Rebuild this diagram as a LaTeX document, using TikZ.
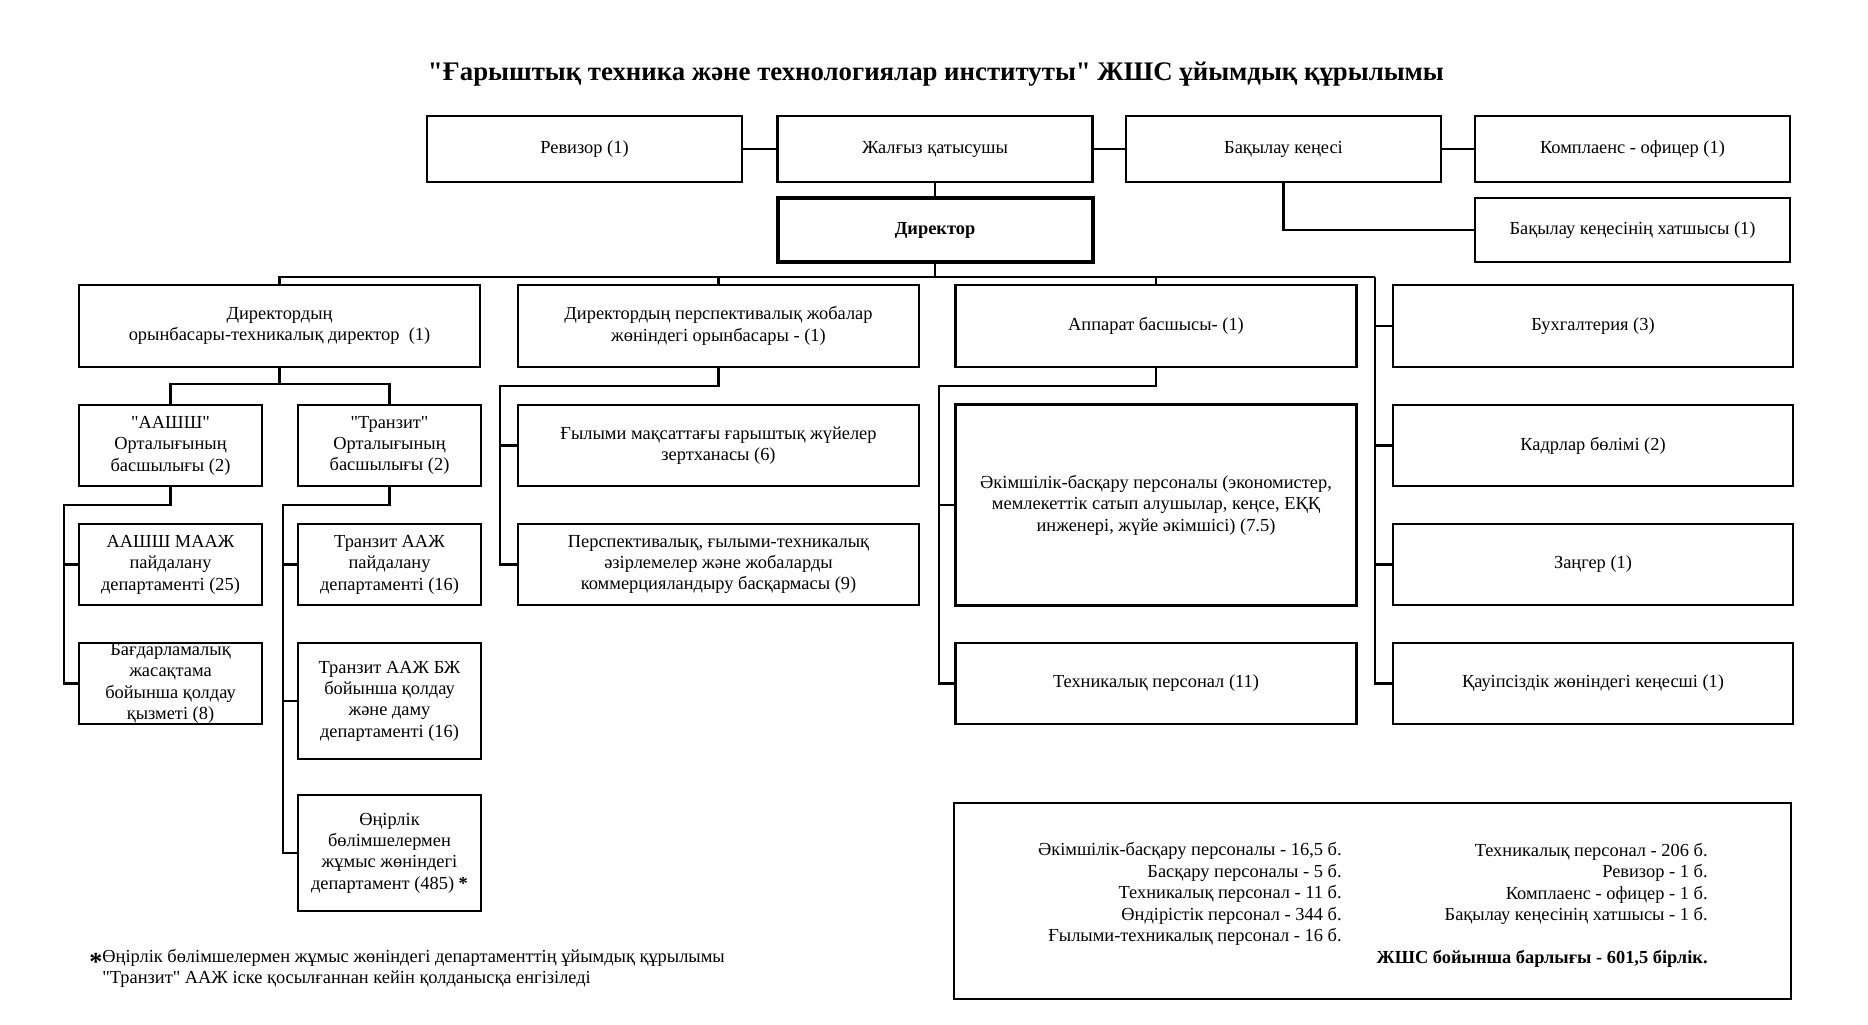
\documentclass[tikz,border=0pt]{standalone}
\usepackage{fontspec}
\setmainfont{Liberation Serif}[Ligatures=TeXOff]
\newcommand{\fsbody}{\fontsize{9.2}{10.7}\selectfont}
\begin{document}
\begin{tikzpicture}[x=0.5pt,y=-0.5pt,
  box/.style={draw, line width=1.2pt, inner sep=0pt, align=center, font=\fsbody},
  topbox/.style={box, minimum width=157.5pt, minimum height=33pt},
  bigbox/.style={box, minimum width=200.5pt, minimum height=41pt},
  smallbox/.style={box, minimum width=91.5pt, minimum height=40.5pt},
  tallbox/.style={box, minimum width=91.5pt, minimum height=58pt},
  conn/.style={line width=1.2pt},
  txt/.style={inner sep=0pt, font=\fsbody}]
\fill[white] (0,0) rectangle (1868,1024);
\useasboundingbox (0,0) rectangle (1868,1024);

\node[inner sep=0pt, font=\fontsize{13.4}{16}\selectfont\bfseries] (title) at (936,74)
  {"Ғарыштық техника және технологиялар институты" ЖШС ұйымдық құрылымы};

% top row
\node[topbox] (rev) at (584.5,149) {Ревизор (1)};
\node[topbox] (zq) at (935,149) {Жалғыз қатысушы};
\node[topbox] (bk) at (1283.5,149) {Бақылау кеңесі};
\node[topbox] (komp) at (1632.5,149) {Комплаенс - офицер (1)};
\node[topbox, line width=2pt, minimum height=32pt, font=\fsbody\bfseries] (dir) at (935,230) {Директор};
\node[topbox, minimum height=32pt] (hat) at (1632.5,230) {Бақылау кеңесінің хатшысы (1)};

% row 2
\node[bigbox] (b1) at (279.5,326) {Директордың\\орынбасары-техникалық директор\ \ (1)};
\node[bigbox] (b2) at (718.5,326) {Директордың перспективалық жобалар\\жөніндегі орынбасары - (1)};
\node[bigbox] (b3) at (1156,326) {Аппарат басшысы- (1)};
\node[bigbox, minimum width=200pt] (r1) at (1593,326) {Бухгалтерия (3)};

% row 3
\node[smallbox] (a1) at (170.5,445.5) {"ААШШ"\\Орталығының\\басшылығы (2)};
\node[smallbox] (t1) at (389.5,445.5) {"Транзит"\\Орталығының\\басшылығы (2)};
\node[bigbox, minimum height=40.5pt] (g1) at (718.5,445.5) {Ғылыми мақсаттағы ғарыштық жүйелер\\зертханасы (6)};
\node[bigbox, minimum height=100.5pt] (ak) at (1156,505) {Әкімшілік-басқару персоналы (экономистер,\\мемлекеттік сатып алушылар, кеңсе, ЕҚҚ\\инженері, жүйе әкімшісі) (7.5)};
\node[bigbox, minimum width=200pt, minimum height=40.5pt] (r2) at (1593,445.5) {Кадрлар бөлімі (2)};

% row 4
\node[smallbox] (a2) at (170.5,564.5) {ААШШ МААЖ\\пайдалану\\департаменті (25)};
\node[smallbox] (t2) at (389.5,564.5) {Транзит ААЖ\\пайдалану\\департаменті (16)};
\node[bigbox, minimum height=40.5pt] (g2) at (718.5,564.5) {Перспективалық, ғылыми-техникалық\\әзірлемелер және жобаларды\\коммерцияландыру басқармасы (9)};
\node[bigbox, minimum width=200pt, minimum height=40.5pt] (r3) at (1593,564.5) {Заңгер (1)};

% row 5
\node[smallbox] (a3) at (170.5,683.5) {Бағдарламалық\\жасақтама\\бойынша қолдау\\қызметі (8)};
\node[tallbox] (t3) at (389.5,701) {Транзит ААЖ БЖ\\бойынша қолдау\\және даму\\департаменті (16)};
\node[bigbox, minimum height=40.5pt] (tx) at (1156,683.5) {Техникалық персонал (11)};
\node[bigbox, minimum width=200pt, minimum height=40.5pt] (r4) at (1593,683.5) {Қауіпсіздік жөніндегі кеңесші (1)};

\node[tallbox] (t4) at (389.5,853) {Өңірлік\\бөлімшелермен\\жұмыс жөніндегі\\департамент (485) \textbf{*}};

% summary
\node[draw, line width=1.4pt, minimum width=418.5pt, minimum height=98pt, inner sep=0pt] (sum) at (1372.5,901) {};
\node[txt, align=right, anchor=east] (sl) at (1342,894) {Әкімшілік-басқару персоналы - 16,5 б.\\Басқару персоналы - 5 б.\\Техникалық персонал - 11 б.\\Өндірістік персонал - 344 б.\\Ғылыми-техникалық персонал - 16 б.};
\node[txt, align=right, anchor=east] (sr) at (1708,884) {Техникалық персонал - 206 б.\\Ревизор - 1 б.\\Комплаенс - офицер - 1 б.\\Бақылау кеңесінің хатшысы - 1 б.};
\node[txt, anchor=east, font=\fsbody\bfseries] (tot) at (1708,959) {ЖШС бойынша барлығы - 601,5 бірлік.};

% footnote
\node[inner sep=0pt, anchor=west, font=\fontsize{13}{13}\selectfont\bfseries] (ast) at (89,962) {*};
\node[txt, align=left, anchor=north west] (fn) at (102,949) {Өңірлік бөлімшелермен жұмыс жөніндегі департаменттің ұйымдық құрылымы\\"Транзит" ААЖ іске қосылғаннан кейін қолданысқа енгізіледі};

% connectors
\coordinate (busR) at (1375,277);
\coordinate (h1) at (279.5,384);
\coordinate (va) at (64,505);
\coordinate (vt) at (283,505);
\coordinate (vg) at (500,386);
\coordinate (vk) at (939,386);

\draw[conn] (rev.east) -- (zq.west);
\draw[conn] (zq.east) -- (bk.west);
\draw[conn] (bk.east) -- (komp.west);
\draw[conn] (zq.south) -- (dir.north);
\draw[conn] (bk.south) |- (hat.west);

\draw[conn] (dir.south) -- (dir.south |- busR);
\draw[conn] (b1.north) |- (busR);
\draw[conn] (b2.north) -- (b2.north |- busR);
\draw[conn] (b3.north) -- (b3.north |- busR);
\draw[conn] (busR) |- (r4.west);
\draw[conn] (busR |- r1.west) -- (r1.west);
\draw[conn] (busR |- r2.west) -- (r2.west);
\draw[conn] (busR |- r3.west) -- (r3.west);

\draw[conn] (b1.south) -- (h1);
\draw[conn] (a1.north) |- (t1.north |- h1) -- (t1.north);

\draw[conn] (a1.south) |- (va) |- (a3.west);
\draw[conn] (va |- a2.west) -- (a2.west);

\draw[conn] (t1.south) |- (vt) |- (t4.west);
\draw[conn] (vt |- t2.west) -- (t2.west);
\draw[conn] (vt |- t3.west) -- (t3.west);

\draw[conn] (b2.south) |- (vg) |- (g2.west);
\draw[conn] (vg |- g1.west) -- (g1.west);

\draw[conn] (b3.south) |- (vk) |- (tx.west);
\draw[conn] (vk |- ak.west) -- (ak.west);
\end{tikzpicture}
\end{document}
